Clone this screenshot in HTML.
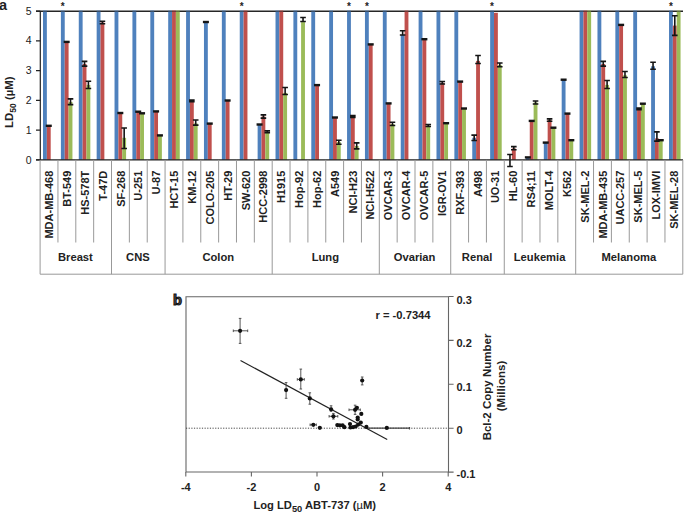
<!DOCTYPE html>
<html><head><meta charset="utf-8"><style>
html,body{margin:0;padding:0;background:#fff;width:685px;height:515px;overflow:hidden}
svg{display:block}
text{font-family:"Liberation Sans",sans-serif;fill:#222}
.yt{font-size:10.5px}
.yl{font-size:11.4px;font-weight:bold}
.pa{font-size:14.5px;font-weight:bold}
.pb{font-size:14.6px;font-weight:bold;fill:#555;stroke:#151515;stroke-width:1.1px}
.st{font-size:10px;font-weight:bold}
.cl{font-size:11px;font-weight:bold}
.gl{font-size:11.2px;font-weight:bold}
.bt{font-size:11px;font-weight:bold}
</style></head><body>
<svg width="685" height="515" viewBox="0 0 685 515">
<path d="M36 11.2H683" stroke="#262626" stroke-width="1.5" fill="none"/>
<rect x="43.00" y="11.9" width="3.85" height="148.00" fill="#4f81bd"/>
<rect x="46.85" y="125.60" width="3.85" height="34.30" fill="#c0504d"/>
<rect x="60.89" y="11.9" width="3.85" height="148.00" fill="#4f81bd"/>
<rect x="64.74" y="41.70" width="3.85" height="118.20" fill="#c0504d"/>
<rect x="68.59" y="101.90" width="3.85" height="58.00" fill="#9bbb59"/>
<rect x="78.77" y="11.9" width="3.85" height="148.00" fill="#4f81bd"/>
<rect x="82.62" y="64.00" width="3.85" height="95.90" fill="#c0504d"/>
<rect x="86.47" y="84.90" width="3.85" height="75.00" fill="#9bbb59"/>
<rect x="96.66" y="11.9" width="3.85" height="148.00" fill="#4f81bd"/>
<rect x="100.51" y="22.40" width="3.85" height="137.50" fill="#c0504d"/>
<rect x="114.54" y="11.9" width="3.85" height="148.00" fill="#4f81bd"/>
<rect x="118.39" y="112.80" width="3.85" height="47.10" fill="#c0504d"/>
<rect x="122.24" y="137.80" width="3.85" height="22.10" fill="#9bbb59"/>
<rect x="132.43" y="11.9" width="3.85" height="148.00" fill="#4f81bd"/>
<rect x="136.28" y="111.50" width="3.85" height="48.40" fill="#c0504d"/>
<rect x="140.13" y="113.10" width="3.85" height="46.80" fill="#9bbb59"/>
<rect x="150.32" y="11.9" width="3.85" height="148.00" fill="#4f81bd"/>
<rect x="154.17" y="111.20" width="3.85" height="48.70" fill="#c0504d"/>
<rect x="158.02" y="135.20" width="3.85" height="24.70" fill="#9bbb59"/>
<rect x="168.20" y="11.9" width="3.85" height="148.00" fill="#4f81bd"/>
<rect x="172.05" y="11.9" width="3.85" height="148.00" fill="#c0504d"/>
<rect x="175.90" y="11.9" width="3.85" height="148.00" fill="#9bbb59"/>
<rect x="186.09" y="11.9" width="3.85" height="148.00" fill="#4f81bd"/>
<rect x="189.94" y="100.90" width="3.85" height="59.00" fill="#c0504d"/>
<rect x="193.79" y="123.40" width="3.85" height="36.50" fill="#9bbb59"/>
<rect x="203.97" y="21.80" width="3.85" height="138.10" fill="#4f81bd"/>
<rect x="207.82" y="123.40" width="3.85" height="36.50" fill="#c0504d"/>
<rect x="221.86" y="11.9" width="3.85" height="148.00" fill="#4f81bd"/>
<rect x="225.71" y="100.30" width="3.85" height="59.60" fill="#c0504d"/>
<rect x="239.75" y="11.9" width="3.85" height="148.00" fill="#4f81bd"/>
<rect x="243.60" y="11.9" width="3.85" height="148.00" fill="#c0504d"/>
<rect x="257.63" y="124.30" width="3.85" height="35.60" fill="#4f81bd"/>
<rect x="261.48" y="116.50" width="3.85" height="43.40" fill="#c0504d"/>
<rect x="265.33" y="131.70" width="3.85" height="28.20" fill="#9bbb59"/>
<rect x="275.52" y="11.9" width="3.85" height="148.00" fill="#4f81bd"/>
<rect x="279.37" y="11.9" width="3.85" height="148.00" fill="#c0504d"/>
<rect x="283.22" y="92.90" width="3.85" height="67.00" fill="#9bbb59"/>
<rect x="293.40" y="11.9" width="3.85" height="148.00" fill="#4f81bd"/>
<rect x="301.10" y="22.10" width="3.85" height="137.80" fill="#9bbb59"/>
<rect x="311.29" y="11.9" width="3.85" height="148.00" fill="#4f81bd"/>
<rect x="315.14" y="84.90" width="3.85" height="75.00" fill="#c0504d"/>
<rect x="329.18" y="11.9" width="3.85" height="148.00" fill="#4f81bd"/>
<rect x="333.03" y="117.30" width="3.85" height="42.60" fill="#c0504d"/>
<rect x="336.88" y="142.00" width="3.85" height="17.90" fill="#9bbb59"/>
<rect x="347.06" y="11.9" width="3.85" height="148.00" fill="#4f81bd"/>
<rect x="350.91" y="116.50" width="3.85" height="43.40" fill="#c0504d"/>
<rect x="354.76" y="146.00" width="3.85" height="13.90" fill="#9bbb59"/>
<rect x="364.95" y="11.9" width="3.85" height="148.00" fill="#4f81bd"/>
<rect x="368.80" y="44.20" width="3.85" height="115.70" fill="#c0504d"/>
<rect x="382.83" y="11.9" width="3.85" height="148.00" fill="#4f81bd"/>
<rect x="386.68" y="103.20" width="3.85" height="56.70" fill="#c0504d"/>
<rect x="390.53" y="124.00" width="3.85" height="35.90" fill="#9bbb59"/>
<rect x="400.72" y="35.00" width="3.85" height="124.90" fill="#4f81bd"/>
<rect x="404.57" y="11.9" width="3.85" height="148.00" fill="#c0504d"/>
<rect x="418.61" y="11.9" width="3.85" height="148.00" fill="#4f81bd"/>
<rect x="422.46" y="39.00" width="3.85" height="120.90" fill="#c0504d"/>
<rect x="426.31" y="125.40" width="3.85" height="34.50" fill="#9bbb59"/>
<rect x="436.49" y="11.9" width="3.85" height="148.00" fill="#4f81bd"/>
<rect x="440.34" y="82.70" width="3.85" height="77.20" fill="#c0504d"/>
<rect x="444.19" y="123.00" width="3.85" height="36.90" fill="#9bbb59"/>
<rect x="454.38" y="11.9" width="3.85" height="148.00" fill="#4f81bd"/>
<rect x="458.23" y="81.40" width="3.85" height="78.50" fill="#c0504d"/>
<rect x="462.08" y="108.30" width="3.85" height="51.60" fill="#9bbb59"/>
<rect x="472.26" y="137.80" width="3.85" height="22.10" fill="#4f81bd"/>
<rect x="476.11" y="60.90" width="3.85" height="99.00" fill="#c0504d"/>
<rect x="490.15" y="11.9" width="3.85" height="148.00" fill="#4f81bd"/>
<rect x="494.00" y="12.80" width="3.85" height="147.10" fill="#c0504d"/>
<rect x="497.85" y="65.00" width="3.85" height="94.90" fill="#9bbb59"/>
<rect x="511.89" y="148.40" width="3.85" height="11.50" fill="#c0504d"/>
<rect x="525.92" y="157.20" width="3.85" height="2.70" fill="#4f81bd"/>
<rect x="529.77" y="120.70" width="3.85" height="39.20" fill="#c0504d"/>
<rect x="533.62" y="102.50" width="3.85" height="57.40" fill="#9bbb59"/>
<rect x="543.81" y="142.40" width="3.85" height="17.50" fill="#4f81bd"/>
<rect x="547.66" y="119.90" width="3.85" height="40.00" fill="#c0504d"/>
<rect x="551.51" y="127.50" width="3.85" height="32.40" fill="#9bbb59"/>
<rect x="561.69" y="79.50" width="3.85" height="80.40" fill="#4f81bd"/>
<rect x="565.54" y="113.40" width="3.85" height="46.50" fill="#c0504d"/>
<rect x="569.39" y="140.00" width="3.85" height="19.90" fill="#9bbb59"/>
<rect x="579.58" y="11.9" width="3.85" height="148.00" fill="#4f81bd"/>
<rect x="583.43" y="11.9" width="3.85" height="148.00" fill="#c0504d"/>
<rect x="587.28" y="11.9" width="3.85" height="148.00" fill="#9bbb59"/>
<rect x="597.47" y="11.9" width="3.85" height="148.00" fill="#4f81bd"/>
<rect x="601.32" y="64.00" width="3.85" height="95.90" fill="#c0504d"/>
<rect x="605.17" y="84.90" width="3.85" height="75.00" fill="#9bbb59"/>
<rect x="615.35" y="11.9" width="3.85" height="148.00" fill="#4f81bd"/>
<rect x="619.20" y="24.70" width="3.85" height="135.20" fill="#c0504d"/>
<rect x="623.05" y="75.30" width="3.85" height="84.60" fill="#9bbb59"/>
<rect x="633.24" y="11.9" width="3.85" height="148.00" fill="#4f81bd"/>
<rect x="637.09" y="108.80" width="3.85" height="51.10" fill="#c0504d"/>
<rect x="640.94" y="103.50" width="3.85" height="56.40" fill="#9bbb59"/>
<rect x="651.12" y="66.30" width="3.85" height="93.60" fill="#4f81bd"/>
<rect x="654.97" y="138.40" width="3.85" height="21.50" fill="#c0504d"/>
<rect x="658.82" y="140.00" width="3.85" height="19.90" fill="#9bbb59"/>
<rect x="669.01" y="11.9" width="3.85" height="148.00" fill="#4f81bd"/>
<rect x="672.86" y="25.60" width="3.85" height="134.30" fill="#c0504d"/>
<rect x="676.71" y="11.9" width="3.85" height="148.00" fill="#9bbb59"/>
<rect x="43.00" y="10.0" width="3.85" height="1.9" fill="#4f81bd" opacity="0.45"/>
<rect x="60.89" y="10.0" width="3.85" height="1.9" fill="#4f81bd" opacity="0.45"/>
<rect x="78.77" y="10.0" width="3.85" height="1.9" fill="#4f81bd" opacity="0.45"/>
<rect x="96.66" y="10.0" width="3.85" height="1.9" fill="#4f81bd" opacity="0.45"/>
<rect x="114.54" y="10.0" width="3.85" height="1.9" fill="#4f81bd" opacity="0.45"/>
<rect x="132.43" y="10.0" width="3.85" height="1.9" fill="#4f81bd" opacity="0.45"/>
<rect x="150.32" y="10.0" width="3.85" height="1.9" fill="#4f81bd" opacity="0.45"/>
<rect x="168.20" y="10.0" width="3.85" height="1.9" fill="#4f81bd" opacity="0.45"/>
<rect x="172.05" y="10.0" width="3.85" height="1.9" fill="#c0504d" opacity="0.45"/>
<rect x="175.90" y="10.0" width="3.85" height="1.9" fill="#9bbb59" opacity="0.45"/>
<rect x="186.09" y="10.0" width="3.85" height="1.9" fill="#4f81bd" opacity="0.45"/>
<rect x="221.86" y="10.0" width="3.85" height="1.9" fill="#4f81bd" opacity="0.45"/>
<rect x="239.75" y="10.0" width="3.85" height="1.9" fill="#4f81bd" opacity="0.45"/>
<rect x="243.60" y="10.0" width="3.85" height="1.9" fill="#c0504d" opacity="0.45"/>
<rect x="275.52" y="10.0" width="3.85" height="1.9" fill="#4f81bd" opacity="0.45"/>
<rect x="279.37" y="10.0" width="3.85" height="1.9" fill="#c0504d" opacity="0.45"/>
<rect x="293.40" y="10.0" width="3.85" height="1.9" fill="#4f81bd" opacity="0.45"/>
<rect x="311.29" y="10.0" width="3.85" height="1.9" fill="#4f81bd" opacity="0.45"/>
<rect x="329.18" y="10.0" width="3.85" height="1.9" fill="#4f81bd" opacity="0.45"/>
<rect x="347.06" y="10.0" width="3.85" height="1.9" fill="#4f81bd" opacity="0.45"/>
<rect x="364.95" y="10.0" width="3.85" height="1.9" fill="#4f81bd" opacity="0.45"/>
<rect x="382.83" y="10.0" width="3.85" height="1.9" fill="#4f81bd" opacity="0.45"/>
<rect x="404.57" y="10.0" width="3.85" height="1.9" fill="#c0504d" opacity="0.45"/>
<rect x="418.61" y="10.0" width="3.85" height="1.9" fill="#4f81bd" opacity="0.45"/>
<rect x="436.49" y="10.0" width="3.85" height="1.9" fill="#4f81bd" opacity="0.45"/>
<rect x="454.38" y="10.0" width="3.85" height="1.9" fill="#4f81bd" opacity="0.45"/>
<rect x="490.15" y="10.0" width="3.85" height="1.9" fill="#4f81bd" opacity="0.45"/>
<rect x="579.58" y="10.0" width="3.85" height="1.9" fill="#4f81bd" opacity="0.45"/>
<rect x="583.43" y="10.0" width="3.85" height="1.9" fill="#c0504d" opacity="0.45"/>
<rect x="587.28" y="10.0" width="3.85" height="1.9" fill="#9bbb59" opacity="0.45"/>
<rect x="597.47" y="10.0" width="3.85" height="1.9" fill="#4f81bd" opacity="0.45"/>
<rect x="615.35" y="10.0" width="3.85" height="1.9" fill="#4f81bd" opacity="0.45"/>
<rect x="633.24" y="10.0" width="3.85" height="1.9" fill="#4f81bd" opacity="0.45"/>
<rect x="669.01" y="10.0" width="3.85" height="1.9" fill="#4f81bd" opacity="0.45"/>
<rect x="676.71" y="10.0" width="3.85" height="1.9" fill="#9bbb59" opacity="0.45"/>
<rect x="45.77" y="124.60" width="6" height="2.4" fill="#151515"/>
<rect x="63.66" y="40.70" width="6" height="2.4" fill="#151515"/>
<path d="M67.71 98.90h5.6M70.51 98.40V105.10M67.71 104.60h5.6" stroke="#151515" stroke-width="1.6" fill="none"/>
<path d="M81.75 61.40h5.6M84.55 60.90V66.60M81.75 66.10h5.6" stroke="#151515" stroke-width="1.6" fill="none"/>
<path d="M85.60 81.20h5.6M88.40 80.70V89.00M85.60 88.50h5.6" stroke="#151515" stroke-width="1.6" fill="none"/>
<path d="M99.63 21.20h5.6M102.43 20.70V24.20M99.63 23.70h5.6" stroke="#151515" stroke-width="1.6" fill="none"/>
<rect x="117.32" y="111.80" width="6" height="2.4" fill="#151515"/>
<path d="M121.37 128.00h5.6M124.17 127.50V149.00M121.37 148.50h5.6" stroke="#151515" stroke-width="1.6" fill="none"/>
<rect x="135.21" y="110.50" width="6" height="2.4" fill="#151515"/>
<rect x="139.06" y="112.10" width="6" height="2.4" fill="#151515"/>
<rect x="153.09" y="110.20" width="6" height="2.4" fill="#151515"/>
<rect x="156.94" y="134.20" width="6" height="2.4" fill="#151515"/>
<path d="M189.06 100.10h5.6M191.86 99.60V102.30M189.06 101.80h5.6" stroke="#151515" stroke-width="1.6" fill="none"/>
<path d="M192.91 120.00h5.6M195.71 119.50V125.60M192.91 125.10h5.6" stroke="#151515" stroke-width="1.6" fill="none"/>
<rect x="202.90" y="20.80" width="6" height="2.4" fill="#151515"/>
<rect x="206.75" y="122.40" width="6" height="2.4" fill="#151515"/>
<rect x="224.63" y="99.30" width="6" height="2.4" fill="#151515"/>
<rect x="256.56" y="123.30" width="6" height="2.4" fill="#151515"/>
<path d="M260.61 114.90h5.6M263.41 114.40V118.60M260.61 118.10h5.6" stroke="#151515" stroke-width="1.6" fill="none"/>
<path d="M264.46 130.80h5.6M267.26 130.30V133.10M264.46 132.60h5.6" stroke="#151515" stroke-width="1.6" fill="none"/>
<path d="M282.34 87.50h5.6M285.14 87.00V95.00M282.34 94.50h5.6" stroke="#151515" stroke-width="1.6" fill="none"/>
<path d="M300.23 17.50h5.6M303.03 17.00V22.00M300.23 21.50h5.6" stroke="#151515" stroke-width="1.6" fill="none"/>
<rect x="314.06" y="83.90" width="6" height="2.4" fill="#151515"/>
<rect x="331.95" y="116.30" width="6" height="2.4" fill="#151515"/>
<path d="M336.00 140.20h5.6M338.80 139.70V144.80M336.00 144.30h5.6" stroke="#151515" stroke-width="1.6" fill="none"/>
<path d="M350.04 115.60h5.6M352.84 115.10V117.90M350.04 117.40h5.6" stroke="#151515" stroke-width="1.6" fill="none"/>
<path d="M353.89 142.90h5.6M356.69 142.40V149.40M353.89 148.90h5.6" stroke="#151515" stroke-width="1.6" fill="none"/>
<rect x="367.72" y="43.20" width="6" height="2.4" fill="#151515"/>
<rect x="385.61" y="102.20" width="6" height="2.4" fill="#151515"/>
<path d="M389.66 122.30h5.6M392.46 121.80V126.00M389.66 125.50h5.6" stroke="#151515" stroke-width="1.6" fill="none"/>
<path d="M399.84 30.80h5.6M402.64 30.30V35.50M399.84 35.00h5.6" stroke="#151515" stroke-width="1.6" fill="none"/>
<rect x="421.38" y="38.00" width="6" height="2.4" fill="#151515"/>
<path d="M425.43 124.50h5.6M428.23 124.00V127.00M425.43 126.50h5.6" stroke="#151515" stroke-width="1.6" fill="none"/>
<path d="M439.47 81.50h5.6M442.27 81.00V84.50M439.47 84.00h5.6" stroke="#151515" stroke-width="1.6" fill="none"/>
<rect x="443.12" y="122.00" width="6" height="2.4" fill="#151515"/>
<rect x="457.15" y="80.40" width="6" height="2.4" fill="#151515"/>
<rect x="461.00" y="107.30" width="6" height="2.4" fill="#151515"/>
<path d="M471.39 135.10h5.6M474.19 134.60V141.00M471.39 140.50h5.6" stroke="#151515" stroke-width="1.6" fill="none"/>
<path d="M475.24 55.50h5.6M478.04 55.00V64.00M475.24 63.50h5.6" stroke="#151515" stroke-width="1.6" fill="none"/>
<path d="M496.97 63.00h5.6M499.77 62.50V67.30M496.97 66.80h5.6" stroke="#151515" stroke-width="1.6" fill="none"/>
<path d="M507.16 154.50h5.6M509.96 154.00V167.00M507.16 166.50h5.6" stroke="#151515" stroke-width="1.6" fill="none"/>
<path d="M511.01 146.60h5.6M513.81 146.10V150.20M511.01 149.70h5.6" stroke="#151515" stroke-width="1.6" fill="none"/>
<rect x="524.85" y="156.20" width="6" height="2.4" fill="#151515"/>
<rect x="528.70" y="119.70" width="6" height="2.4" fill="#151515"/>
<path d="M532.75 101.00h5.6M535.55 100.50V104.50M532.75 104.00h5.6" stroke="#151515" stroke-width="1.6" fill="none"/>
<rect x="542.73" y="141.40" width="6" height="2.4" fill="#151515"/>
<path d="M546.78 118.90h5.6M549.58 118.40V121.70M546.78 121.20h5.6" stroke="#151515" stroke-width="1.6" fill="none"/>
<rect x="550.43" y="126.50" width="6" height="2.4" fill="#151515"/>
<rect x="560.62" y="78.50" width="6" height="2.4" fill="#151515"/>
<rect x="564.47" y="112.40" width="6" height="2.4" fill="#151515"/>
<rect x="568.32" y="139.00" width="6" height="2.4" fill="#151515"/>
<path d="M600.44 61.40h5.6M603.24 60.90V66.60M600.44 66.10h5.6" stroke="#151515" stroke-width="1.6" fill="none"/>
<path d="M604.29 80.50h5.6M607.09 80.00V89.00M604.29 88.50h5.6" stroke="#151515" stroke-width="1.6" fill="none"/>
<rect x="618.13" y="23.70" width="6" height="2.4" fill="#151515"/>
<path d="M622.18 71.50h5.6M624.98 71.00V78.00M622.18 77.50h5.6" stroke="#151515" stroke-width="1.6" fill="none"/>
<path d="M636.21 108.00h5.6M639.01 107.50V110.10M636.21 109.60h5.6" stroke="#151515" stroke-width="1.6" fill="none"/>
<rect x="639.86" y="102.50" width="6" height="2.4" fill="#151515"/>
<path d="M650.25 62.30h5.6M653.05 61.80V69.80M650.25 69.30h5.6" stroke="#151515" stroke-width="1.6" fill="none"/>
<path d="M654.10 131.90h5.6M656.90 131.40V141.60M654.10 141.10h5.6" stroke="#151515" stroke-width="1.6" fill="none"/>
<rect x="657.75" y="139.00" width="6" height="2.4" fill="#151515"/>
<path d="M671.99 15.80h5.6M674.78 15.30V35.90M671.99 35.40h5.6" stroke="#151515" stroke-width="1.6" fill="none"/>
<path d="M40.3 11.0V159.9M36 159.9H683" stroke="#222" stroke-width="1.2" fill="none"/>
<path d="M36 11.00H40.3M36 40.78H40.3M36 70.56H40.3M36 100.34H40.3M36 130.12H40.3M36 159.90H40.3" stroke="#222" stroke-width="1.2"/>
<text x="31.5" y="163.60" text-anchor="end" class="yt">0</text>
<text x="31.5" y="133.82" text-anchor="end" class="yt">1</text>
<text x="31.5" y="104.04" text-anchor="end" class="yt">2</text>
<text x="31.5" y="74.26" text-anchor="end" class="yt">3</text>
<text x="31.5" y="44.48" text-anchor="end" class="yt">4</text>
<text x="31.5" y="14.70" text-anchor="end" class="yt">5</text>
<text class="yl" transform="translate(13.3,102.2) rotate(-90)" text-anchor="middle">LD<tspan font-size="8.5" dy="2.2">50</tspan><tspan dy="-2.2"> (µM)</tspan></text>
<text x="-1" y="10" class="pa">a</text>
<text x="62.79" y="10.0" text-anchor="middle" class="st">*</text>
<text x="241.65" y="10.0" text-anchor="middle" class="st">*</text>
<text x="348.96" y="10.0" text-anchor="middle" class="st">*</text>
<text x="366.85" y="10.0" text-anchor="middle" class="st">*</text>
<text x="492.05" y="10.0" text-anchor="middle" class="st">*</text>
<text x="670.91" y="10.0" text-anchor="middle" class="st">*</text>
<path d="M57.95 159.9V242.5M75.81 159.9V242.5M93.66 159.9V242.5M129.37 159.9V242.5M147.22 159.9V242.5M182.92 159.9V242.5M200.78 159.9V242.5M218.63 159.9V242.5M236.48 159.9V242.5M254.34 159.9V242.5M290.04 159.9V242.5M307.90 159.9V242.5M325.75 159.9V242.5M343.60 159.9V242.5M361.45 159.9V242.5M397.16 159.9V242.5M415.01 159.9V242.5M432.87 159.9V242.5M468.57 159.9V242.5M486.43 159.9V242.5M522.13 159.9V242.5M539.98 159.9V242.5M557.84 159.9V242.5M593.54 159.9V242.5M611.40 159.9V242.5M629.25 159.9V242.5M647.10 159.9V242.5M664.96 159.9V242.5M40.10 159.9V274.2M111.51 159.9V274.2M165.07 159.9V274.2M272.19 159.9V274.2M379.31 159.9V274.2M450.72 159.9V274.2M504.28 159.9V274.2M575.69 159.9V274.2M682.81 159.9V274.2M40.10 274.2H682.81" stroke="#999" stroke-width="1" fill="none"/>
<text class="cl" transform="translate(53.13,170.7) rotate(-90)" text-anchor="end">MDA-MB-468</text>
<text class="cl" transform="translate(70.98,170.7) rotate(-90)" text-anchor="end">BT-549</text>
<text class="cl" transform="translate(88.83,170.7) rotate(-90)" text-anchor="end">HS-578T</text>
<text class="cl" transform="translate(106.69,170.7) rotate(-90)" text-anchor="end">T-47D</text>
<text class="cl" transform="translate(124.54,170.7) rotate(-90)" text-anchor="end">SF-268</text>
<text class="cl" transform="translate(142.39,170.7) rotate(-90)" text-anchor="end">U-251</text>
<text class="cl" transform="translate(160.24,170.7) rotate(-90)" text-anchor="end">U-87</text>
<text class="cl" transform="translate(178.10,170.7) rotate(-90)" text-anchor="end">HCT-15</text>
<text class="cl" transform="translate(195.95,170.7) rotate(-90)" text-anchor="end">KM-12</text>
<text class="cl" transform="translate(213.80,170.7) rotate(-90)" text-anchor="end">COLO-205</text>
<text class="cl" transform="translate(231.66,170.7) rotate(-90)" text-anchor="end">HT-29</text>
<text class="cl" transform="translate(249.51,170.7) rotate(-90)" text-anchor="end">SW-620</text>
<text class="cl" transform="translate(267.36,170.7) rotate(-90)" text-anchor="end">HCC-2998</text>
<text class="cl" transform="translate(285.22,170.7) rotate(-90)" text-anchor="end">H1915</text>
<text class="cl" transform="translate(303.07,170.7) rotate(-90)" text-anchor="end">Hop-92</text>
<text class="cl" transform="translate(320.92,170.7) rotate(-90)" text-anchor="end">Hop-62</text>
<text class="cl" transform="translate(338.77,170.7) rotate(-90)" text-anchor="end">A549</text>
<text class="cl" transform="translate(356.63,170.7) rotate(-90)" text-anchor="end">NCI-H23</text>
<text class="cl" transform="translate(374.48,170.7) rotate(-90)" text-anchor="end">NCI-H522</text>
<text class="cl" transform="translate(392.33,170.7) rotate(-90)" text-anchor="end">OVCAR-3</text>
<text class="cl" transform="translate(410.19,170.7) rotate(-90)" text-anchor="end">OVCAR-4</text>
<text class="cl" transform="translate(428.04,170.7) rotate(-90)" text-anchor="end">OVCAR-5</text>
<text class="cl" transform="translate(445.89,170.7) rotate(-90)" text-anchor="end">IGR-OV1</text>
<text class="cl" transform="translate(463.75,170.7) rotate(-90)" text-anchor="end">RXF-393</text>
<text class="cl" transform="translate(481.60,170.7) rotate(-90)" text-anchor="end">A498</text>
<text class="cl" transform="translate(499.45,170.7) rotate(-90)" text-anchor="end">UO-31</text>
<text class="cl" transform="translate(517.30,170.7) rotate(-90)" text-anchor="end">HL-60</text>
<text class="cl" transform="translate(535.16,170.7) rotate(-90)" text-anchor="end">RS4;11</text>
<text class="cl" transform="translate(553.01,170.7) rotate(-90)" text-anchor="end">MOLT-4</text>
<text class="cl" transform="translate(570.86,170.7) rotate(-90)" text-anchor="end">K562</text>
<text class="cl" transform="translate(588.72,170.7) rotate(-90)" text-anchor="end">SK-MEL-2</text>
<text class="cl" transform="translate(606.57,170.7) rotate(-90)" text-anchor="end">MDA-MB-435</text>
<text class="cl" transform="translate(624.42,170.7) rotate(-90)" text-anchor="end">UACC-257</text>
<text class="cl" transform="translate(642.28,170.7) rotate(-90)" text-anchor="end">SK-MEL-5</text>
<text class="cl" transform="translate(660.13,170.7) rotate(-90)" text-anchor="end">LOX-IMVI</text>
<text class="cl" transform="translate(677.98,170.7) rotate(-90)" text-anchor="end">SK-MEL-28</text>
<text class="gl" x="75.41" y="261" text-anchor="middle">Breast</text>
<text class="gl" x="137.89" y="261" text-anchor="middle">CNS</text>
<text class="gl" x="218.23" y="261" text-anchor="middle">Colon</text>
<text class="gl" x="325.35" y="261" text-anchor="middle">Lung</text>
<text class="gl" x="414.61" y="261" text-anchor="middle">Ovarian</text>
<text class="gl" x="477.10" y="261" text-anchor="middle">Renal</text>
<text class="gl" x="539.58" y="261" text-anchor="middle">Leukemia</text>
<text class="gl" x="628.85" y="261" text-anchor="middle">Melanoma</text>
<path d="M186.0 296.7H448.5V472.0H186.0Z" stroke="#666" stroke-width="1.1" fill="none"/>
<path d="M185.80 472.0V476.5M251.40 472.0V476.5M317.00 472.0V476.5M382.60 472.0V476.5M448.20 472.0V476.5M448.5 296.50H453.6M448.5 340.40H453.6M448.5 384.30H453.6M448.5 428.20H453.6M448.5 472.10H453.6" stroke="#666" stroke-width="1.1"/>
<text class="bt" x="185.80" y="490.5" text-anchor="middle">-4</text>
<text class="bt" x="251.40" y="490.5" text-anchor="middle">-2</text>
<text class="bt" x="317.00" y="490.5" text-anchor="middle">0</text>
<text class="bt" x="382.60" y="490.5" text-anchor="middle">2</text>
<text class="bt" x="448.20" y="490.5" text-anchor="middle">4</text>
<text class="bt" x="456.5" y="303.50">0.3</text>
<text class="bt" x="456.5" y="346.60">0.2</text>
<text class="bt" x="456.5" y="390.50">0.1</text>
<text class="bt" x="456.5" y="434.40">0</text>
<text class="bt" x="456.5" y="478.30">-0.1</text>
<text class="bt" style="font-size:11.2px" x="253.4" y="509.0">Log LD<tspan font-size="9.3" dy="3">50</tspan><tspan dy="-3"> ABT-737 (<tspan font-weight="normal">µ</tspan>M)</tspan></text>
<text class="bt" style="font-size:11.5px" transform="translate(490.6,387) rotate(-90)" text-anchor="middle">Bcl-2 Copy Number</text>
<text class="bt" style="font-size:11.5px" transform="translate(504.6,386) rotate(-90)" text-anchor="middle">(Millions)</text>
<text class="bt" style="font-size:11.2px" x="375.5" y="319.2">r = -0.7344</text>
<text class="pb" x="173" y="305.4">b</text>
<path d="M186.0 428.2H448.5" stroke="#333" stroke-width="0.9" stroke-dasharray="1.2,1.45"/>
<path d="M366.4 428.2H409.5M409.5 427V429.4" stroke="#444" stroke-width="1.2"/>
<path d="M240.5 360.5L387.2 439.4" stroke="#222" stroke-width="1.15"/>
<path d="M233.30 330.80H247.70M233.30 329.50v2.6M247.70 329.50v2.6M240.10 318.40V343.40M238.80 318.40h2.6M238.80 343.40h2.6M286.10 382.60V398.30M284.80 382.60h2.6M284.80 398.30h2.6M297.30 379.40H304.30M297.30 378.10v2.6M304.30 378.10v2.6M300.80 369.10V389.00M299.50 369.10h2.6M299.50 389.00h2.6M309.80 392.80V404.20M308.50 392.80h2.6M308.50 404.20h2.6M362.20 377.00V384.90M360.90 377.00h2.6M360.90 384.90h2.6M331.10 405.80V411.20M329.80 405.80h2.6M329.80 411.20h2.6M329.10 416.30H337.80M329.10 415.00v2.6M337.80 415.00v2.6M333.40 413.40V419.00M332.10 413.40h2.6M332.10 419.00h2.6M310.10 424.80H316.30M310.10 423.50v2.6M316.30 423.50v2.6M349.00 409.80H360.30M349.00 408.50v2.6M360.30 408.50v2.6M355.10 405.20V414.40M353.80 405.20h2.6M353.80 414.40h2.6" stroke="#444" stroke-width="0.9" fill="none"/>
<g fill="#111"><circle cx="240.10" cy="330.80" r="2.1"/><circle cx="286.10" cy="390.10" r="2.1"/><circle cx="300.80" cy="379.40" r="2.1"/><circle cx="309.80" cy="398.40" r="2.1"/><circle cx="362.20" cy="380.50" r="2.1"/><circle cx="331.10" cy="409.30" r="2.1"/><circle cx="333.40" cy="416.30" r="2.1"/><circle cx="313.30" cy="424.80" r="2.1"/><circle cx="319.80" cy="427.80" r="2.1"/><circle cx="337.30" cy="425.10" r="2.1"/><circle cx="339.80" cy="425.30" r="2.1"/><circle cx="342.60" cy="425.30" r="2.1"/><circle cx="344.40" cy="427.20" r="2.1"/><circle cx="350.00" cy="424.10" r="2.1"/><circle cx="350.50" cy="427.50" r="2.1"/><circle cx="353.10" cy="427.20" r="2.1"/><circle cx="355.70" cy="426.50" r="2.1"/><circle cx="358.20" cy="424.60" r="2.1"/><circle cx="360.80" cy="422.60" r="2.1"/><circle cx="357.70" cy="417.50" r="2.1"/><circle cx="357.70" cy="419.50" r="2.1"/><circle cx="361.30" cy="413.90" r="2.1"/><circle cx="355.10" cy="409.80" r="2.1"/><circle cx="356.90" cy="407.80" r="2.1"/><circle cx="366.40" cy="426.90" r="2.1"/><circle cx="386.80" cy="427.90" r="2.1"/></g>
</svg>
</body></html>
